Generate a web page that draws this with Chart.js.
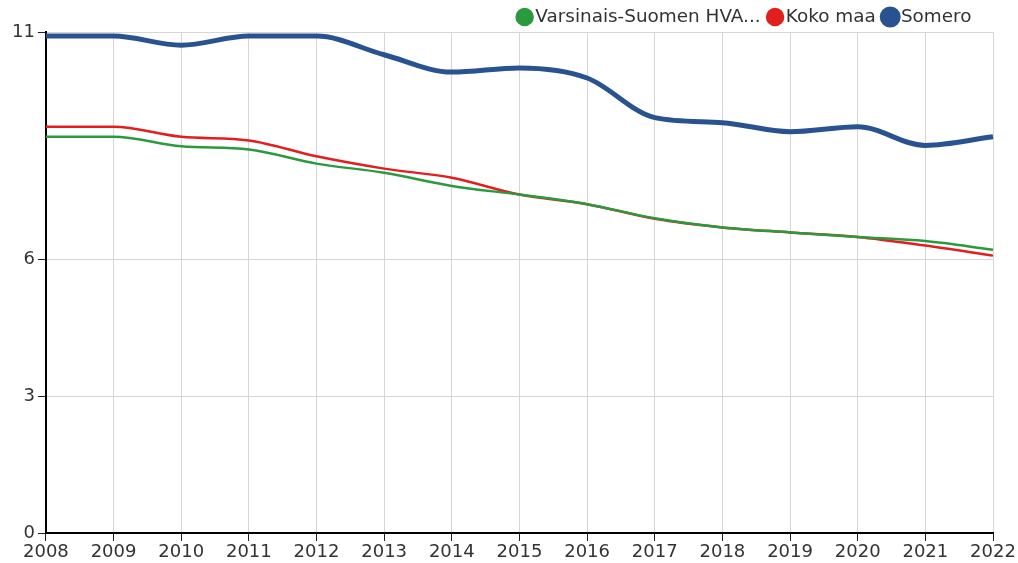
<!DOCTYPE html>
<html>
<head>
<meta charset="utf-8">
<script src="https://cdn.jsdelivr.net/npm/chart.js@4/dist/chart.umd.min.js"></script>
<style>
    html, body { margin: 0; padding: 0; background: #fff; }
    #wrap { width: 1018px; height: 563px; }
</style>
</head>
<body>
<div id="wrap"><canvas id="chart"></canvas></div>
<script>
// data
const years = ['2008', '2009', '2010', '2011', '2012', '2013', '2014', '2015',
    '2016', '2017', '2018', '2019', '2020', '2021', '2022'];
const varsinais = [8.70, 8.70, 8.49, 8.42, 8.11, 7.91, 7.62, 7.43, 7.22, 6.91, 6.71, 6.60, 6.50, 6.41, 6.22];
const kokoMaa = [8.92, 8.92, 8.70, 8.62, 8.27, 8.00, 7.80, 7.43, 7.22, 6.90, 6.71, 6.60, 6.50, 6.31, 6.09];
const somero = [10.91, 10.91, 10.71, 10.91, 10.91, 10.50, 10.12, 10.21, 9.99, 9.12, 9.01, 8.81, 8.92, 8.51, 8.70];
const yTicks = [0, 3, 6, 11];

const font = { family: 'DejaVu Sans', size: 18, lineHeight: 1 };

// legend: a bit lower and a bit left of where chart.js puts it
const legendShift = {
    id: 'legendShift',
    afterLayout(chart) {
        const legend = chart.legend;
        legend.top = chart.chartArea.top - 37.2;
        legend.right = chart.chartArea.right - 8;
        // small slack so the last item doesn't wrap to a new row
        legend.lineWidths[0] += 0.5;
    }
};

const makeLine = (label, data, color, width) => ({
    label: label,
    data: data,
    borderColor: color,
    backgroundColor: color,
    borderWidth: width,
    pointRadius: 0,
    pointHoverRadius: 0,
    cubicInterpolationMode: 'monotone',
    fill: false
});

new Chart(document.getElementById('chart'), {
    type: 'line',
    data: {
        labels: years,
        datasets: [
            makeLine('Varsinais-Suomen HVA...', varsinais, '#2b9a3f', 2.5),
            makeLine('Koko maa', kokoMaa, '#e31e1e', 2.5),
            makeLine('Somero', somero, '#285390', 5)
        ]
    },
    options: {
        responsive: true,
        maintainAspectRatio: false,
        animation: false,
        layout: { padding: { left: 9, right: 25, top: -9.4, bottom: 0 } },
        plugins: {
            legend: {
                position: 'top',
                align: 'end',
                labels: {
                    usePointStyle: true,
                    pointStyle: 'circle',
                    boxWidth: 3,
                    boxHeight: 11.3,
                    padding: 13,
                    color: '#333',
                    font: { family: 'DejaVu Sans', size: 18.4 }
                }
            },
            tooltip: { enabled: false }
        },
        scales: {
            x: {
                grid: { color: '#d6d6d6', lineWidth: 1, tickColor: '#222', tickLength: 8 },
                border: { color: '#000', width: 2 },
                ticks: { color: '#333', font: font, padding: 2, maxRotation: 0, autoSkip: false }
            },
            y: {
                min: 0,
                max: 11,
                afterBuildTicks: axis => {
                    axis.ticks = yTicks.map(v => ({ value: v }));
                },
                grid: { color: '#d6d6d6', lineWidth: 1, tickColor: '#222', tickLength: 8 },
                border: { color: '#000', width: 2 },
                ticks: { color: '#333', font: font, padding: 3 }
            }
        }
    },
    plugins: [legendShift]
});
</script>
</body>
</html>
